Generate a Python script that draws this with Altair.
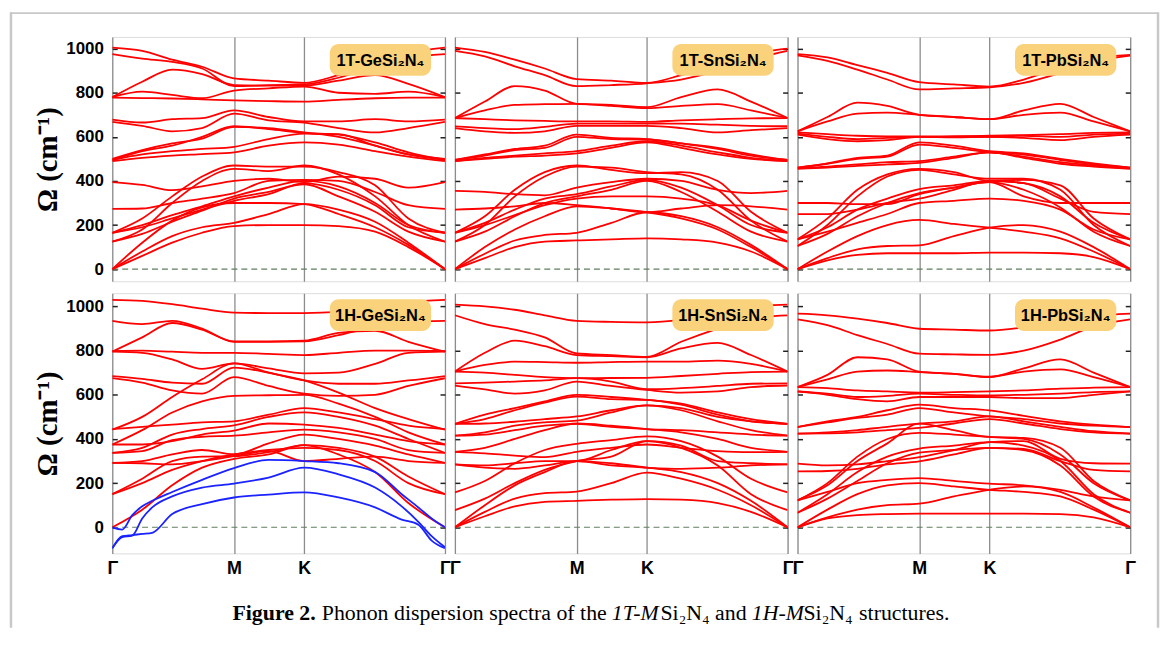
import altair as alt
import pandas as pd

# ---------------- data ----------------
KX = [0.0, 0.09, 0.18, 0.27, 0.366, 0.47, 0.577, 0.68, 0.79, 0.89, 1.0]
BLUE_X = [0.0, 0.03, 0.06, 0.09, 0.12, 0.18, 0.27, 0.366, 0.47, 0.577, 0.68, 0.79, 0.87, 0.92, 0.96, 1.0]
K_TICKS = [0.0, 0.366, 0.577, 1.0]
K_NAMES = ["Γ", "M", "K", "Γ"]
Y_TICKS = [0, 200, 400, 600, 800, 1000]

T_GE = [
    [1005, 990, 950, 918, 865, 855, 845, 880, 930, 980, 1005],
    [975, 955, 940, 910, 830, 835, 838, 868, 918, 958, 975],
    [780, 850, 905, 885, 835, 832, 832, 855, 880, 840, 780],
    [780, 805, 790, 775, 810, 820, 828, 800, 795, 805, 780],
    [778, 776, 774, 770, 765, 762, 760, 768, 775, 778, 778],
    [678, 665, 680, 685, 720, 690, 670, 670, 680, 670, 678],
    [668, 650, 625, 640, 705, 675, 665, 640, 620, 640, 668],
    [500, 540, 570, 592, 645, 640, 620, 600, 560, 520, 500],
    [495, 535, 560, 600, 648, 635, 618, 610, 575, 530, 495],
    [495, 520, 535, 545, 555, 590, 615, 612, 560, 520, 495],
    [490, 505, 515, 522, 530, 560, 575, 565, 535, 510, 490],
    [395, 382, 358, 375, 400, 410, 395, 420, 410, 370, 395],
    [273, 275, 300, 320, 345, 400, 405, 400, 350, 290, 273],
    [165, 230, 330, 420, 470, 465, 465, 440, 380, 230, 165],
    [125, 180, 300, 400, 455, 445, 470, 430, 330, 200, 125],
    [165, 200, 245, 285, 330, 370, 400, 375, 300, 200, 165],
    [125, 160, 215, 265, 320, 350, 385, 330, 260, 170, 125],
    [165, 190, 230, 270, 310, 340, 390, 360, 290, 190, 165],
    [0, 120, 220, 280, 300, 300, 295, 250, 190, 110, 0],
    [0, 80, 150, 190, 210, 250, 295, 270, 215, 120, 0],
    [0, 60, 120, 165, 195, 200, 200, 195, 170, 100, 0],
]

T_SN = [
    [1005, 985, 950, 910, 862, 855, 845, 880, 930, 975, 1000],
    [990, 965, 920, 880, 830, 835, 843, 860, 900, 950, 990],
    [685, 760, 830, 810, 750, 745, 735, 780, 815, 760, 685],
    [685, 720, 745, 748, 750, 740, 730, 740, 748, 720, 685],
    [685, 680, 675, 672, 670, 670, 668, 675, 680, 684, 685],
    [648, 640, 635, 645, 660, 660, 660, 660, 655, 650, 648],
    [640, 625, 618, 625, 650, 650, 650, 640, 620, 630, 640],
    [495, 520, 545, 560, 610, 595, 590, 570, 550, 520, 495],
    [495, 515, 540, 550, 600, 590, 588, 570, 545, 515, 495],
    [490, 505, 515, 525, 535, 560, 580, 560, 530, 505, 490],
    [490, 500, 510, 515, 525, 550, 575, 550, 520, 500, 490],
    [355, 350, 340, 335, 370, 395, 410, 400, 360, 345, 355],
    [270, 275, 285, 300, 290, 275, 258, 275, 290, 285, 270],
    [165, 240, 360, 440, 470, 450, 435, 440, 400, 260, 165],
    [125, 200, 330, 420, 465, 460, 440, 430, 360, 220, 125],
    [165, 210, 270, 320, 340, 375, 405, 370, 290, 200, 165],
    [125, 170, 240, 300, 330, 360, 400, 350, 260, 170, 125],
    [165, 200, 245, 290, 320, 330, 330, 320, 290, 220, 165],
    [0, 100, 180, 240, 285, 275, 258, 230, 180, 100, 0],
    [0, 70, 130, 155, 165, 210, 258, 240, 190, 110, 0],
    [0, 50, 100, 125, 130, 135, 140, 135, 120, 80, 0],
]

T_PB = [
    [975, 960, 925, 890, 848, 838, 828, 860, 915, 955, 972],
    [970, 945, 905, 860, 815, 820, 825, 845, 890, 940, 968],
    [625, 690, 755, 740, 700, 690, 680, 720, 750, 690, 625],
    [625, 670, 705, 710, 700, 690, 680, 700, 710, 670, 625],
    [620, 612, 605, 602, 602, 603, 605, 608, 612, 618, 620],
    [615, 600, 590, 595, 600, 600, 600, 605, 600, 610, 615],
    [610, 590, 580, 585, 600, 598, 600, 595, 585, 600, 610],
    [460, 480, 505, 515, 575, 560, 535, 525, 500, 480, 460],
    [460, 478, 500, 510, 565, 550, 530, 520, 495, 475, 460],
    [458, 465, 475, 485, 490, 510, 530, 510, 485, 470, 458],
    [455, 460, 468, 475, 482, 505, 530, 505, 478, 465, 455],
    [300, 300, 295, 295, 340, 370, 395, 330, 300, 300, 300],
    [250, 250, 270, 300, 320, 360, 400, 390, 320, 260, 250],
    [135, 230, 360, 430, 455, 440, 400, 405, 380, 230, 135],
    [105, 200, 330, 420, 450, 430, 410, 410, 360, 200, 105],
    [135, 190, 270, 320, 363, 380, 400, 390, 330, 210, 135],
    [105, 160, 240, 300, 345, 370, 395, 360, 280, 170, 105],
    [135, 170, 210, 250, 300, 310, 320, 310, 270, 180, 135],
    [0, 80, 150, 200, 223, 205, 188, 170, 140, 80, 0],
    [0, 50, 90, 105, 108, 150, 188, 200, 170, 100, 0],
    [0, 40, 65, 72, 72, 72, 75, 75, 72, 55, 0],
]

H_GE = [
    [1030, 1025, 1010, 990, 972, 970, 970, 975, 1000, 1020, 1030],
    [935, 920, 935, 900, 840, 840, 842, 870, 910, 930, 935],
    [795, 860, 925, 895, 842, 842, 845, 880, 890, 840, 795],
    [798, 800, 795, 790, 790, 785, 780, 790, 800, 800, 798],
    [795, 790, 760, 717, 742, 720, 697, 700, 740, 790, 795],
    [685, 672, 655, 650, 723, 700, 665, 650, 650, 665, 685],
    [675, 655, 620, 605, 680, 640, 605, 595, 600, 640, 675],
    [442, 500, 590, 670, 742, 700, 665, 610, 540, 490, 442],
    [445, 455, 465, 475, 480, 510, 540, 520, 490, 460, 445],
    [375, 440, 520, 570, 595, 598, 600, 560, 500, 430, 375],
    [337, 360, 420, 445, 462, 500, 520, 500, 460, 400, 337],
    [375, 375, 390, 420, 438, 470, 465, 450, 420, 390, 375],
    [337, 345, 395, 410, 415, 430, 442, 430, 400, 350, 337],
    [292, 300, 330, 350, 330, 380, 420, 400, 370, 330, 292],
    [150, 220, 300, 320, 322, 340, 372, 360, 320, 230, 150],
    [150, 200, 260, 300, 330, 350, 360, 350, 300, 200, 150],
    [292, 290, 285, 300, 322, 345, 300, 310, 320, 300, 292],
    [0, 80, 190, 270, 310, 330, 372, 330, 250, 110, 0],
]

H_GE_BLUE = [
    [0, -10, 55, 95, 120, 160, 215, 268, 305, 300, 290, 250, 150, 90, 40, 0],
    [-95, -45, -38, 40, 90, 140, 180, 198, 225, 270, 240, 180, 95, 25, -40, -90],
    [-95, -40, -35, -30, -25, 60, 105, 135, 148, 158, 135, 90, 35, 12, -60, -95],
]

H_SN = [
    [1008, 1000, 985, 960, 935, 930, 928, 940, 970, 1000, 1008],
    [960, 920, 895, 860, 787, 780, 772, 840, 900, 945, 960],
    [705, 790, 845, 820, 780, 775, 770, 810, 835, 780, 705],
    [705, 735, 750, 748, 745, 748, 750, 750, 755, 740, 705],
    [705, 700, 690, 680, 675, 676, 677, 685, 695, 703, 705],
    [652, 655, 660, 665, 675, 660, 625, 630, 640, 650, 652],
    [642, 625, 605, 620, 660, 640, 622, 610, 615, 635, 642],
    [468, 510, 540, 570, 600, 590, 577, 560, 520, 490, 468],
    [468, 490, 530, 565, 592, 580, 577, 555, 510, 480, 468],
    [468, 470, 478, 490, 502, 530, 552, 540, 500, 480, 468],
    [415, 430, 460, 475, 483, 520, 552, 530, 480, 440, 415],
    [415, 420, 440, 460, 468, 455, 445, 440, 430, 420, 415],
    [342, 360, 400, 440, 470, 460, 445, 430, 400, 360, 342],
    [342, 335, 325, 318, 342, 360, 375, 360, 345, 340, 342],
    [285, 280, 290, 300, 300, 350, 390, 370, 300, 290, 285],
    [285, 270, 265, 280, 300, 280, 270, 265, 270, 280, 285],
    [158, 210, 290, 350, 378, 395, 412, 390, 320, 220, 158],
    [78, 130, 200, 260, 300, 320, 390, 360, 280, 150, 78],
    [0, 100, 190, 250, 300, 290, 270, 250, 200, 120, 0],
    [0, 70, 130, 155, 162, 200, 248, 220, 170, 100, 0],
    [0, 50, 95, 115, 120, 125, 128, 125, 110, 70, 0],
]

H_PB = [
    [967, 960, 945, 925, 899, 895, 891, 905, 930, 955, 967],
    [941, 915, 870, 830, 786, 783, 781, 800, 850, 910, 941],
    [635, 690, 770, 760, 705, 695, 680, 720, 760, 700, 635],
    [635, 670, 705, 710, 703, 695, 682, 705, 715, 680, 635],
    [635, 630, 620, 615, 610, 612, 615, 620, 628, 632, 635],
    [615, 605, 590, 595, 605, 600, 597, 600, 605, 612, 615],
    [615, 600, 580, 570, 590, 590, 590, 585, 585, 600, 615],
    [454, 480, 500, 530, 555, 540, 529, 505, 480, 465, 454],
    [454, 475, 495, 510, 540, 520, 502, 490, 470, 460, 454],
    [424, 430, 440, 455, 469, 480, 502, 480, 455, 435, 424],
    [424, 425, 430, 440, 450, 470, 490, 470, 445, 430, 424],
    [288, 280, 285, 300, 318, 350, 386, 390, 310, 290, 288],
    [253, 255, 265, 285, 299, 330, 360, 355, 300, 260, 253],
    [122, 200, 320, 400, 428, 420, 409, 400, 330, 200, 122],
    [122, 190, 300, 380, 469, 440, 409, 405, 360, 210, 122],
    [66, 150, 250, 320, 356, 370, 386, 370, 300, 150, 66],
    [66, 130, 210, 290, 338, 350, 360, 350, 280, 140, 66],
    [122, 160, 200, 215, 223, 210, 198, 190, 170, 140, 122],
    [0, 80, 150, 190, 200, 185, 170, 160, 140, 80, 0],
    [0, 45, 80, 100, 107, 140, 170, 185, 160, 90, 0],
    [0, 40, 55, 60, 62, 62, 62, 62, 60, 45, 0],
]

LABELS = ["1T-GeSi₂N₄", "1T-SnSi₂N₄", "1T-PbSi₂N₄", "1H-GeSi₂N₄", "1H-SnSi₂N₄", "1H-PbSi₂N₄"]
Y_TITLE = "Ω (cm⁻¹)"
CAPTION_PARTS = ["Figure 2.", "Phonon dispersion spectra of the", "1T-M", "Si₂N₄", "and", "1H-M", "Si₂N₄", "structures."]

# ---------------- styling / layout ----------------
RED = "#ff0000"
BLUE = "#1a22ff"
W = 335
HEIGHTS = {"top": 246, "bottom": 262}
YDOM = {"top": [-55, 1053], "bottom": [-118, 1060]}
SANS = "Liberation Sans"
SERIF = "Liberation Serif"
BORDER = "#c8c8c8"

# caption piece x positions (page px minus plot-left 111)
CAP_X = [121, 211, 503, 552, 607, 644, 696, 752]
CAP_WEIGHT = ["bold", "normal", "normal", "normal", "normal", "normal", "normal", "normal"]
CAP_STYLE = ["normal", "normal", "italic", "normal", "normal", "italic", "normal", "normal"]


def band_frame(bands, xs, color, offset=0):
    rows = []
    for i, vals in enumerate(bands):
        for k, w in zip(xs, vals):
            rows.append({"band": i + offset, "k": k, "w": w, "c": color})
    return pd.DataFrame(rows)


def panel(bands, label, row, col, blue=None, extras=()):
    df = band_frame(bands, KX, RED)
    if blue is not None:
        df = pd.concat([df, band_frame(blue, BLUE_X, BLUE, offset=100)], ignore_index=True)
    xs = alt.Scale(domain=[0, 1], nice=False, zero=False)
    ys = alt.Scale(domain=YDOM[row], nice=False, zero=False)

    xkw = dict(values=K_TICKS, grid=True, gridColor="#8c8c8c", gridWidth=1.3,
               domain=False, ticks=False, tickSize=0, labelOverlap=False,
               labelFlush=False, title=None)
    if row == "bottom":
        xkw.update(labels=True,
                   labelExpr="datum.value < 0.2 ? 'Γ' : (datum.value < 0.5 ? 'M' : (datum.value < 0.9 ? 'K' : 'Γ'))",
                   labelFont=SANS, labelFontSize=18, labelFontWeight="bold",
                   labelColor="#000000", labelPadding=6)
    else:
        xkw.update(labels=False)
    xaxis = alt.Axis(**xkw)

    ykw = dict(values=Y_TICKS, grid=False, domain=False, offset=-5, tickSize=5,
               tickWidth=1.5, tickColor="#222222", format="d")
    if col == 0:
        ykw.update(labels=True, labelFont=SANS, labelFontSize=17, labelFontWeight="bold",
                   labelColor="#000000", labelPadding=9, title=Y_TITLE,
                   titleFont=SERIF, titleFontSize=29, titleFontWeight="bold",
                   titleColor="#000000", titlePadding=3)
    else:
        ykw.update(labels=False, title=None)
    yaxis = alt.Axis(**ykw)
    raxis = alt.Axis(orient="right", values=Y_TICKS, grid=False, domain=False, offset=-5,
                     tickSize=5, tickWidth=1.5, tickColor="#222222", labels=False, title=None)

    zero = alt.Chart(pd.DataFrame({"k0": [0.0], "k1": [1.0], "z": [0]})).mark_rule(
        strokeDash=[6, 4], color="#5f7f5f", strokeWidth=1.1
    ).encode(
        x=alt.X("k0:Q", scale=xs, axis=xaxis), x2="k1:Q",
        y=alt.Y("z:Q", scale=ys, axis=raxis),
    )

    lines = alt.Chart(df).mark_line(interpolate="monotone", strokeWidth=1.8, clip=True).encode(
        x=alt.X("k:Q", scale=xs, axis=xaxis),
        y=alt.Y("w:Q", scale=ys, axis=yaxis),
        color=alt.Color("c:N", scale=None),
        detail="band:N",
    )

    by0, by1 = (7, 39) if row == "top" else (6, 38)
    lab = pd.DataFrame({"t": [label]})
    badge = alt.Chart(lab).mark_rect(cornerRadius=9, color="#fad27c").encode(
        x=alt.value(219), x2=alt.value(321), y=alt.value(by0), y2=alt.value(by1)
    )
    badge_text = alt.Chart(lab).mark_text(
        font=SANS, fontSize=16.5, fontWeight="bold", color="#000000", align="center", baseline="middle"
    ).encode(x=alt.value(270), y=alt.value((by0 + by1) / 2 + 1), text="t:N")

    return alt.layer(zero, lines, badge, badge_text, *extras).resolve_axis(y="independent").properties(
        width=W, height=HEIGHTS[row]
    )


one = pd.DataFrame({"v": [1]})

top_border = alt.Chart(one).mark_rule(color=BORDER, strokeWidth=2).encode(
    x=alt.value(-103), x2=alt.value(1053), y=alt.value(-24)
)
left_border = alt.Chart(one).mark_rule(color=BORDER, strokeWidth=2.5).encode(
    x=alt.value(-102), y=alt.value(-283), y2=alt.value(337)
)
right_border = alt.Chart(one).mark_rule(color=BORDER, strokeWidth=2.5).encode(
    x=alt.value(363), y=alt.value(-283), y2=alt.value(337)
)

caption_layers = []
for txt, xpos, wt, st in zip(CAPTION_PARTS, CAP_X, CAP_WEIGHT, CAP_STYLE):
    caption_layers.append(
        alt.Chart(pd.DataFrame({"t": [txt]})).mark_text(
            font=SERIF, fontSize=22, fontWeight=wt, fontStyle=st, color="#000000",
            align="left", baseline="alphabetic"
        ).encode(x=alt.value(xpos), y=alt.value(329), text="t:N")
    )

p1 = panel(T_GE, LABELS[0], "top", 0, extras=(top_border,))
p2 = panel(T_SN, LABELS[1], "top", 1)
p3 = panel(T_PB, LABELS[2], "top", 2)
p4 = panel(H_GE, LABELS[3], "bottom", 0, blue=H_GE_BLUE, extras=tuple([left_border] + caption_layers))
p5 = panel(H_SN, LABELS[4], "bottom", 1)
p6 = panel(H_PB, LABELS[5], "bottom", 2, extras=(right_border,))

chart = alt.concat(
    p1, p2, p3, p4, p5, p6,
    columns=3, spacing={"row": 12, "column": 10}, bounds="flush",
).properties(
    padding={"left": 0, "top": 0, "right": 0, "bottom": 0}
).configure_view(
    stroke="#2b2b2b", strokeWidth=2
).configure(background="white")

chart.save("out.html", embed_options={"renderer": "svg", "actions": False})
